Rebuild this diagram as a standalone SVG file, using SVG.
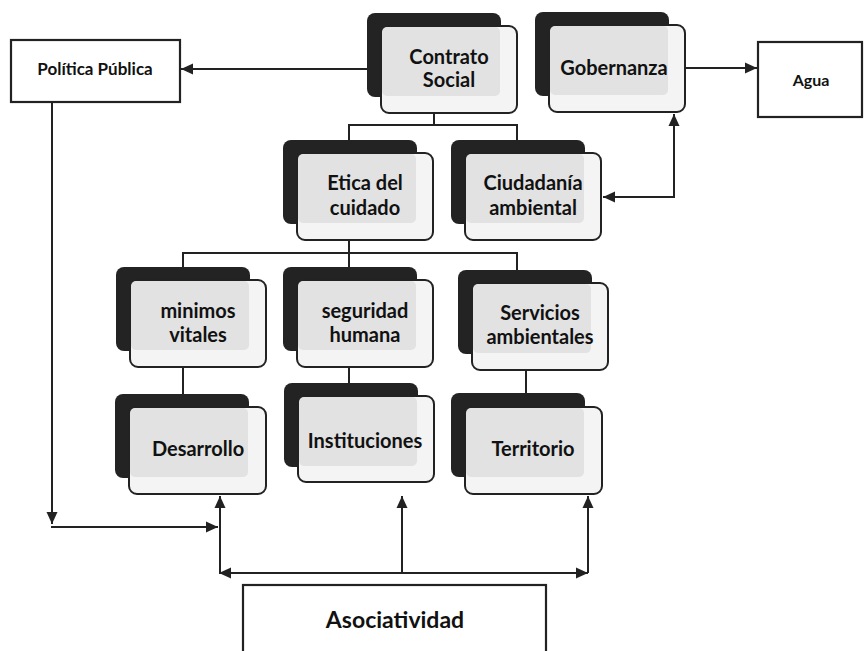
<svg xmlns="http://www.w3.org/2000/svg" width="864" height="651" viewBox="0 0 864 651">
<defs>
<style>
.back{fill:#232323}
.front{fill:#f4f4f4;stroke:#222;stroke-width:2}
.inner{fill:#e2e2e2}
.box{fill:#fff;stroke:#222;stroke-width:2.2}
.t{font-family:Lato,"Liberation Sans",sans-serif;font-weight:700;fill:#111;text-anchor:middle}
.n{font-size:20px}
.s{font-size:17px}
.a{font-size:16px}
.big{font-size:23px}
.c{fill:none;stroke:#222;stroke-width:2}
</style>
<marker id="ah" markerUnits="userSpaceOnUse" markerWidth="13" markerHeight="13" refX="12" refY="6.5" orient="auto-start-reverse" viewBox="0 0 13 13">
<path d="M0,1 L12,6.5 L0,12 z" fill="#222"/>
</marker>
</defs>
<rect width="864" height="651" fill="#fff"/>

<g id="connectors">
<path class="c" d="M367,69 H181" marker-end="url(#ah)"/>
<path class="c" d="M673,68 H757" marker-end="url(#ah)"/>
<path class="c" d="M674,114 V197 H603" marker-start="url(#ah)" marker-end="url(#ah)"/>
<path class="c" d="M434,113 V125 M349,140 V125 H517 V140"/>
<path class="c" d="M349,241 V253 M183,267 V253 H517 V270 M349,253 V267"/>
<path class="c" d="M183,368 V394 M349,368 V383 M526,370 V393"/>
<path class="c" d="M52,102 V524" marker-end="url(#ah)"/>
<path class="c" d="M51,527 H218" marker-end="url(#ah)"/>
<path class="c" d="M219,573 H588" marker-start="url(#ah)" marker-end="url(#ah)"/>
<path class="c" d="M220,573 V496" marker-end="url(#ah)"/>
<path class="c" d="M402,573 V496" marker-end="url(#ah)"/>
<path class="c" d="M588,573 V496" marker-end="url(#ah)"/>
</g>

<g id="politica">
<rect class="box" x="11" y="40" width="169" height="62"/>
<text class="t s" x="95" y="75">Política Pública</text>
</g>
<g id="agua">
<rect class="box" x="758" y="42" width="104" height="75"/>
<text class="t a" x="811" y="86">Agua</text>
</g>
<g id="asociatividad">
<rect class="box" x="243" y="585" width="303" height="80"/>
<text class="t big" x="395" y="628">Asociatividad</text>
</g>

<g id="contrato">
<rect class="back" x="367" y="13" width="134" height="84" rx="8"/>
<rect class="front" x="381" y="26" width="136" height="87" rx="8"/>
<rect class="inner" x="382" y="27" width="118" height="69" rx="5"/>
<text class="t n" x="449" y="64">Contrato</text>
<text class="t n" x="449" y="87">Social</text>
</g>
<g id="gobernanza">
<rect class="back" x="535" y="12" width="134" height="84" rx="8"/>
<rect class="front" x="549" y="25" width="136" height="87" rx="8"/>
<rect class="inner" x="550" y="26" width="118" height="69" rx="5"/>
<text class="t n" x="614" y="75">Gobernanza</text>
</g>
<g id="etica">
<rect class="back" x="283" y="140" width="134" height="84" rx="8"/>
<rect class="front" x="297" y="153" width="136" height="87" rx="8"/>
<rect class="inner" x="298" y="154" width="118" height="69" rx="5"/>
<text class="t n" x="365" y="190">Etica del</text>
<text class="t n" x="365" y="215">cuidado</text>
</g>
<g id="ciudadania">
<rect class="back" x="451" y="140" width="134" height="84" rx="8"/>
<rect class="front" x="465" y="153" width="136" height="87" rx="8"/>
<rect class="inner" x="466" y="154" width="118" height="69" rx="5"/>
<text class="t n" x="533" y="190">Ciudadanía</text>
<text class="t n" x="533" y="215">ambiental</text>
</g>
<g id="minimos">
<rect class="back" x="116" y="267" width="134" height="84" rx="8"/>
<rect class="front" x="130" y="280" width="136" height="87" rx="8"/>
<rect class="inner" x="131" y="281" width="118" height="69" rx="5"/>
<text class="t n" x="198" y="318">minimos</text>
<text class="t n" x="198" y="342">vitales</text>
</g>
<g id="seguridad">
<rect class="back" x="283" y="267" width="134" height="84" rx="8"/>
<rect class="front" x="297" y="280" width="136" height="87" rx="8"/>
<rect class="inner" x="298" y="281" width="118" height="69" rx="5"/>
<text class="t n" x="365" y="318">seguridad</text>
<text class="t n" x="365" y="342">humana</text>
</g>
<g id="servicios">
<rect class="back" x="458" y="270" width="134" height="84" rx="8"/>
<rect class="front" x="472" y="283" width="136" height="87" rx="8"/>
<rect class="inner" x="473" y="284" width="118" height="69" rx="5"/>
<text class="t n" x="540" y="320">Servicios</text>
<text class="t n" x="540" y="344">ambientales</text>
</g>
<g id="desarrollo">
<rect class="back" x="115" y="394" width="134" height="84" rx="8"/>
<rect class="front" x="129" y="407" width="137" height="87" rx="8"/>
<rect class="inner" x="130" y="408" width="118" height="69" rx="5"/>
<text class="t n" x="198" y="456">Desarrollo</text>
</g>
<g id="instituciones">
<rect class="back" x="284" y="383" width="134" height="84" rx="8"/>
<rect class="front" x="298" y="396" width="136" height="86" rx="8"/>
<rect class="inner" x="299" y="397" width="118" height="69" rx="5"/>
<text class="t n" x="365" y="448">Instituciones</text>
</g>
<g id="territorio">
<rect class="back" x="451" y="393" width="134" height="84" rx="8"/>
<rect class="front" x="465" y="407" width="137" height="87" rx="8"/>
<rect class="inner" x="466" y="408" width="118" height="69" rx="5"/>
<text class="t n" x="533" y="456">Territorio</text>
</g>
</svg>
